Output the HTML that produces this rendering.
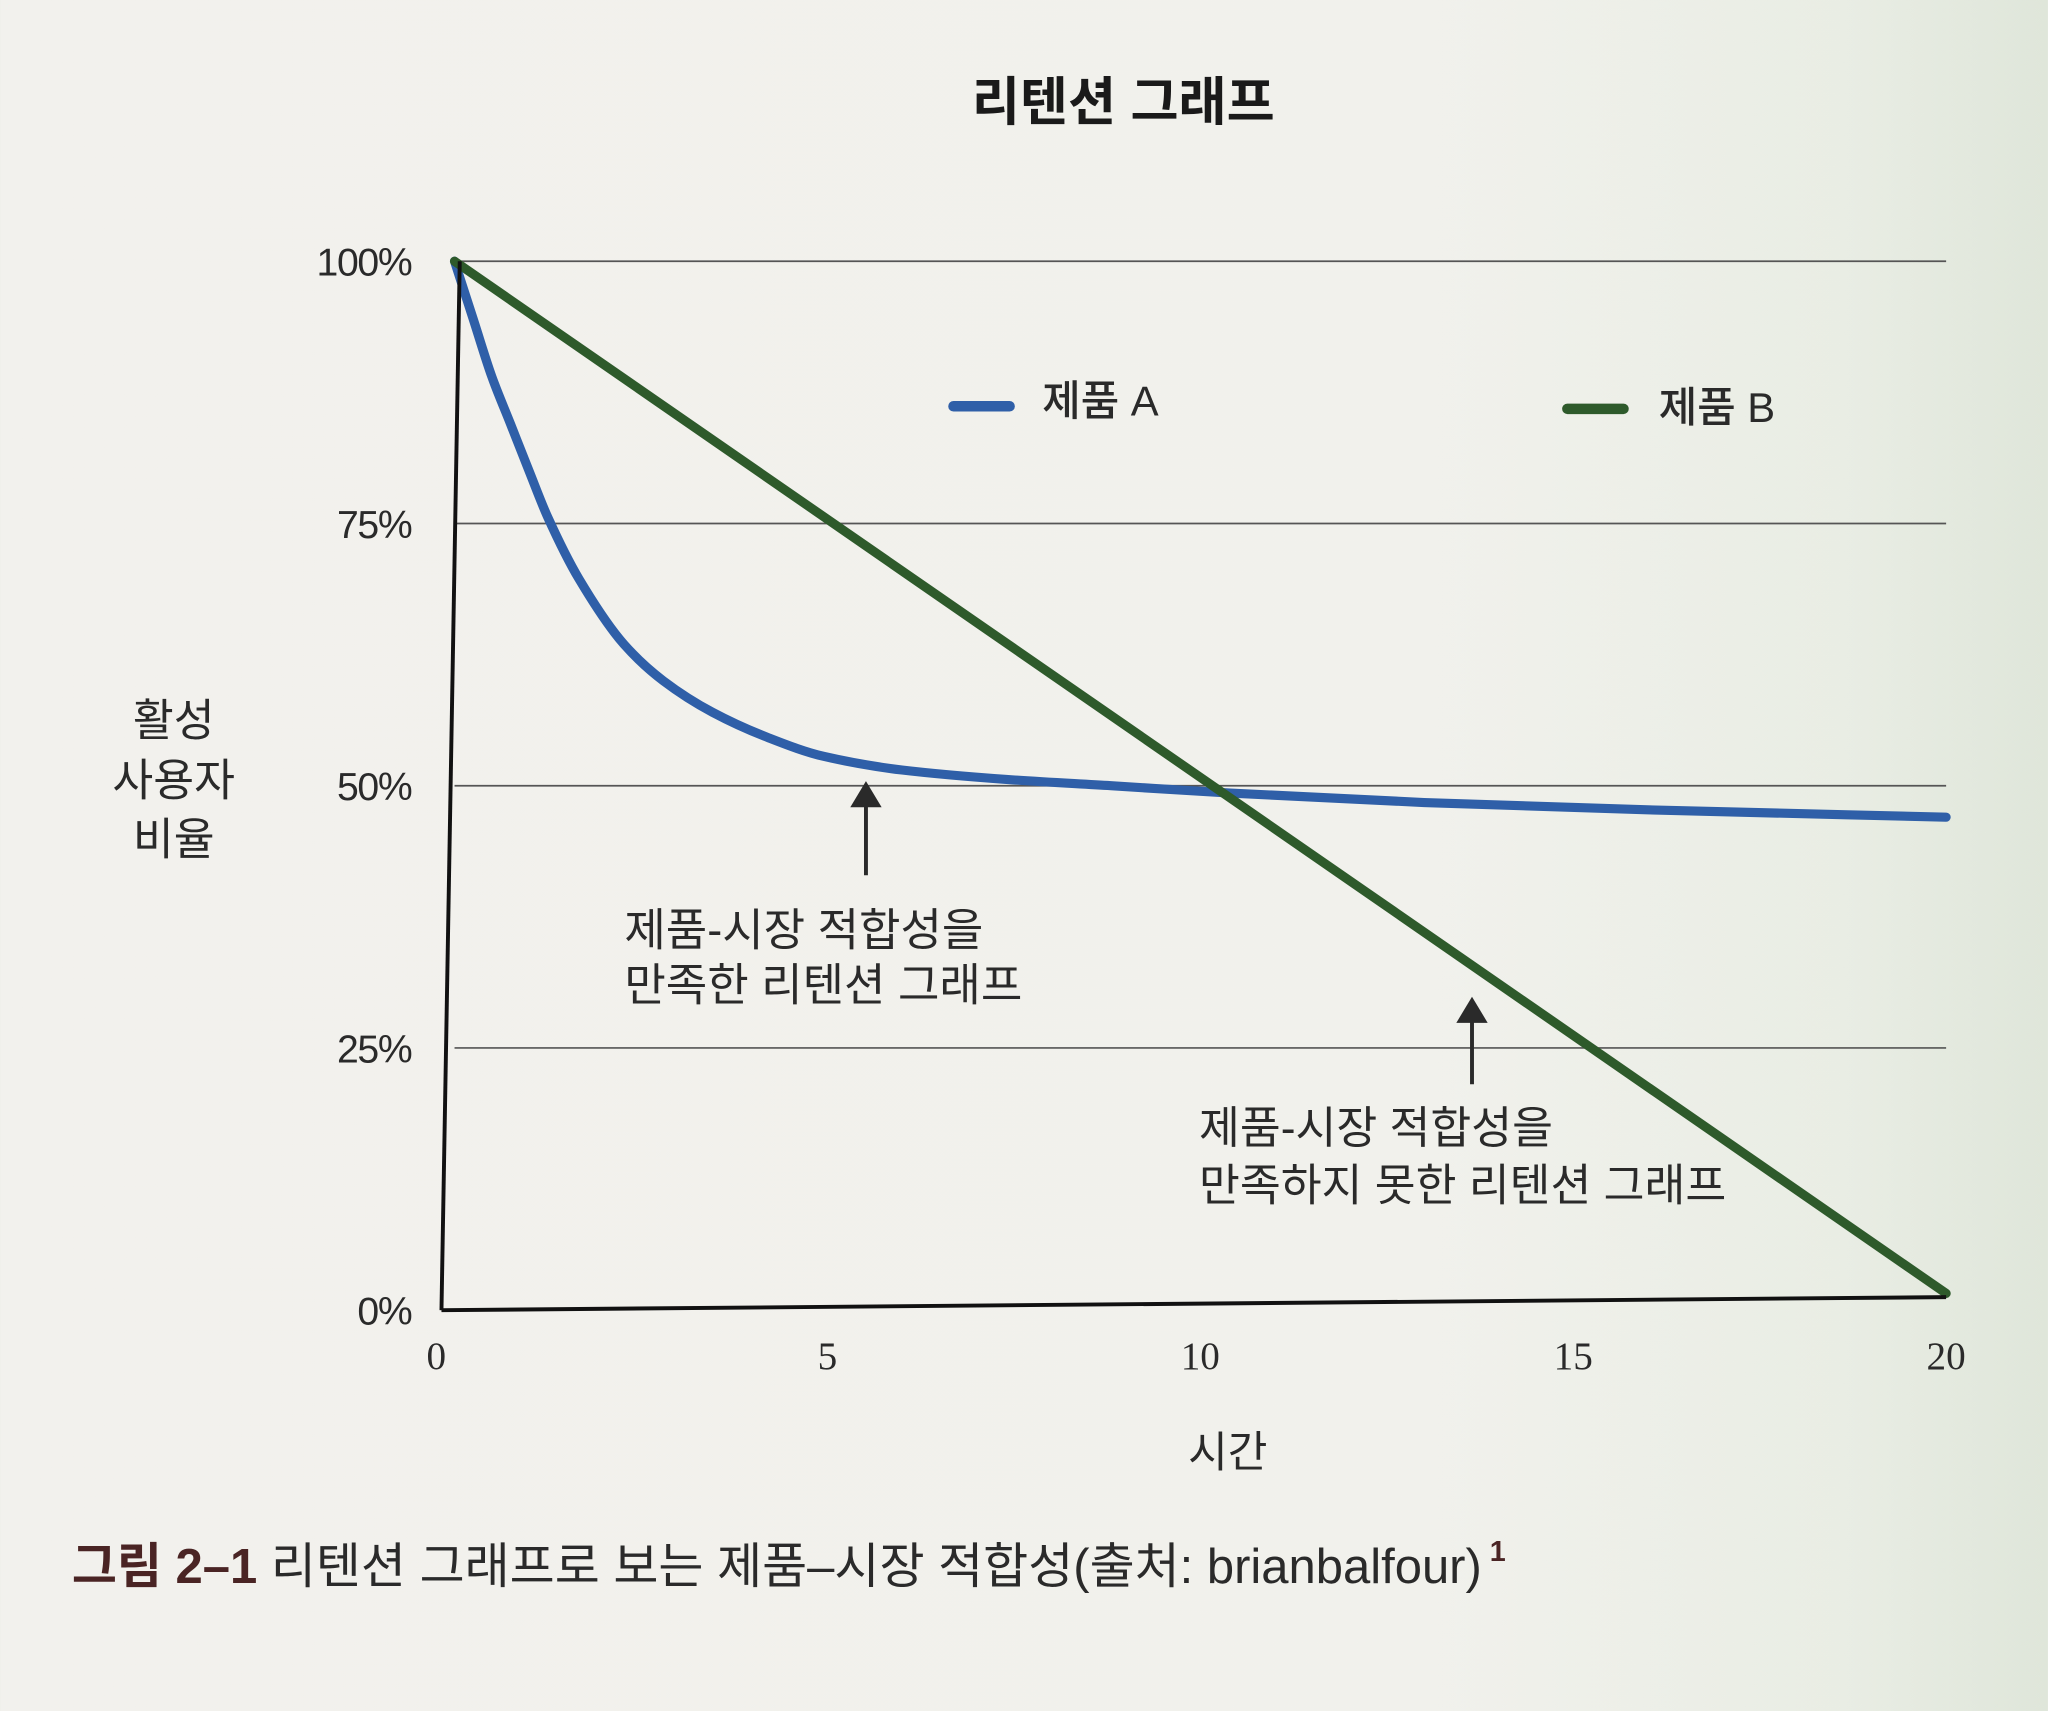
<!DOCTYPE html>
<html><head><meta charset="utf-8"><style>
html,body{margin:0;padding:0;}
body{width:2048px;height:1706px;overflow:hidden;background:linear-gradient(90deg,#f2f1ed 0%,#f1f1ec 70%,#e9ede4 90%,#dfe6da 100%);}
svg text{font-family:"Liberation Sans","Noto Sans CJK KR",sans-serif;fill:#2a2a2a;}
</style></head><body>
<svg id="chart" width="2048" height="1706" viewBox="0 0 1568 1306" preserveAspectRatio="none">
<text x="860" y="92" text-anchor="middle" font-size="40" font-weight="bold" style="fill:#1a1a1a">리텐션 그래프</text>
<g id="grid"></g>
<g id="yticks"></g>
<g id="xticks"></g>
<g font-size="34">
<text x="133" y="563" text-anchor="middle">활성</text>
<text x="133" y="609" text-anchor="middle">사용자</text>
<text x="133" y="654" text-anchor="middle">비율</text>
</g>
<text x="940" y="1123" text-anchor="middle" font-size="33">시간</text>
<g id="series"></g>
<g id="axes"></g>
<g>
<line x1="730" y1="311" x2="773" y2="311" stroke="#2f5fa8" stroke-width="8" stroke-linecap="round"/>
<text x="798" y="318" font-size="32" font-weight="500">제품 A</text>
</g>
<g>
<line x1="1200" y1="313" x2="1243" y2="313" stroke="#2e5a2b" stroke-width="8" stroke-linecap="round"/>
<text x="1270" y="323" font-size="32" font-weight="500">제품 B</text>
</g>
<g>
<line x1="663" y1="670" x2="663" y2="615" stroke="#2a2a2a" stroke-width="3"/>
<polygon points="663,598 651,618 675,618" fill="#2a2a2a"/>
<text x="478" y="724" font-size="34.5">제품-시장 적합성을</text>
<text x="478" y="766" font-size="34.5">만족한 리텐션 그래프</text>
</g>
<g>
<line x1="1127" y1="830" x2="1127" y2="780" stroke="#2a2a2a" stroke-width="3"/>
<polygon points="1127,763 1115,783 1139,783" fill="#2a2a2a"/>
<text x="918" y="875" font-size="34">제품-시장 적합성을</text>
<text x="918" y="919" font-size="34">만족하지 못한 리텐션 그래프</text>
</g>
<g font-size="37.5">
<text x="55" y="1212"><tspan font-weight="bold" style="fill:#4a2424">그림 2–1</tspan> 리텐션 그래프로 보는 제품–시장 적합성(출처: brianbalfour)<tspan font-size="22" font-weight="bold" dy="-17" style="fill:#4a2424"> 1</tspan></text>
</g>
</svg>
<script>
const xTicks=[0,5,10,15,20];
const yTicks=[0,25,50,75,100];
const yTickLabels=["0%","25%","50%","75%","100%"];
const timeA=[0,0.25,0.5,0.75,1,1.25,1.67,2.27,2.8,3.46,4.2,4.95,6,7.4,8.8,10.4,13,16,20];
const valuesA=[100,94.5,89,84.5,80,75.6,69.7,63.5,60,57,54.6,52.8,51.5,50.6,50,49.3,48.4,47.7,47];
const timeB=[0,20];
const valuesB=[100,1.6];
const NS="http://www.w3.org/2000/svg";
const X=t=>348+t*(1490-348)/20;
const Y=v=>1003-v*(1003-200)/100;
function mk(tag,attrs,parent){const e=document.createElementNS(NS,tag);for(const k in attrs)e.setAttribute(k,attrs[k]);parent.appendChild(e);return e;}
const grid=document.getElementById('grid'),yt=document.getElementById('yticks'),xt=document.getElementById('xticks'),ser=document.getElementById('series'),ax=document.getElementById('axes');
yTicks.forEach((v,i)=>{
  if(v>0){const l=mk('line',{x1:X(0),x2:1490,y1:Y(v),y2:Y(v),stroke:'#555','stroke-width':1.3},grid);
  
  }
  const t=mk('text',{x:315,y:Y(v)+11,'text-anchor':'end','font-size':30,'letter-spacing':'-1'},yt);
  t.textContent=yTickLabels[i];
  
  
});
xTicks.forEach(v=>{
  const t=mk('text',{x:X(v)-(v===0?14:0),y:1048,'text-anchor':'middle','font-size':30,style:'font-family:"Liberation Serif",serif'},xt);
  t.textContent=String(v);
  
  
});
function monoPath(ts,vs){
  const n=ts.length;
  if(n<3) return 'M'+ts.map((t,i)=>X(t)+','+Y(vs[i])).join(' L');
  const d=[],m=new Array(n);
  for(let i=0;i<n-1;i++)d.push((vs[i+1]-vs[i])/(ts[i+1]-ts[i]));
  m[0]=d[0];m[n-1]=d[n-2];
  for(let i=1;i<n-1;i++){m[i]=(d[i-1]*d[i]<=0)?0:2/(1/d[i-1]+1/d[i]);}
  let s='M'+X(ts[0])+','+Y(vs[0]);
  for(let i=0;i<n-1;i++){
    const h=ts[i+1]-ts[i];
    const c1t=ts[i]+h/3,c1v=vs[i]+m[i]*h/3,c2t=ts[i+1]-h/3,c2v=vs[i+1]-m[i+1]*h/3;
    s+=' C'+X(c1t)+','+Y(c1v)+' '+X(c2t)+','+Y(c2v)+' '+X(ts[i+1])+','+Y(vs[i+1]);
  }
  return s;
}
const a=mk('path',{d:monoPath(timeA,valuesA),fill:'none',stroke:'#2f5fa8','stroke-width':7,'stroke-linecap':'round','stroke-linejoin':'round'},ser);


const b=mk('path',{d:monoPath(timeB,valuesB),fill:'none',stroke:'#2e5a2b','stroke-width':7,'stroke-linecap':'round'},ser);


const ya=mk('line',{x1:X(0)+4,y1:Y(100),x2:X(0)-10,y2:Y(0),stroke:'#111','stroke-width':3},ax);


const xa=mk('line',{x1:X(0)-10,y1:Y(0),x2:X(20),y2:Y(0)-10,stroke:'#111','stroke-width':3},ax);


</script>
</body></html>
